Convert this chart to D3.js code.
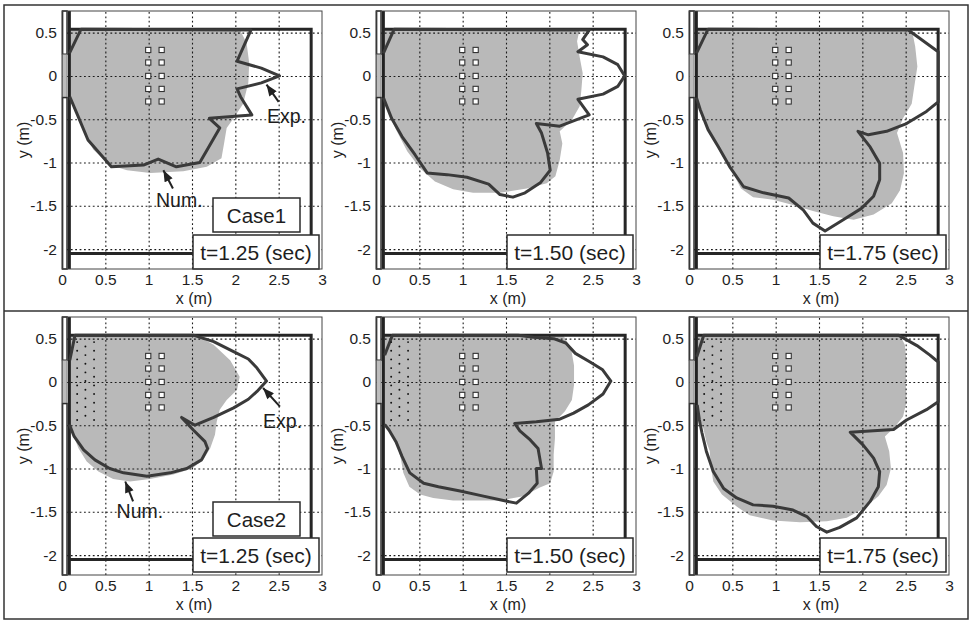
<!DOCTYPE html>
<html><head><meta charset="utf-8">
<script src="https://cdn.jsdelivr.net/npm/d3@7"></script>
<style>
body{margin:0;background:#fff}
svg{display:block}
text{font-family:"Liberation Sans",Arial,Helvetica,sans-serif;fill:#1e1e1e}
</style>
</head><body>
<svg id="c" width="973" height="622"></svg>
<script>
// ---------- data ----------
const xTicks = [0, 0.5, 1, 1.5, 2, 2.5, 3];
const xTickLabels = ["0", "0.5", "1", "1.5", "2", "2.5", "3"];
const yTicks = [0.5, 0, -0.5, -1, -1.5, -2];
const yTickLabels = ["0.5", "0", "-0.5", "-1", "-1.5", "-2"];
const timeLabels = ["t=1.25 (sec)", "t=1.50 (sec)", "t=1.75 (sec)"];
const caseLabels = ["Case1", "Case2"];
const obstacleX = [0.995, 1.15];
const obstacleY = [0.30, 0.155, 0, -0.15, -0.295];
const dotXOuter = [0.175, 0.37];
const dotXMiddle = [0.27];
const dotYOuter = [0.46, 0.36, 0.26, 0.16, 0.06, -0.04, -0.14, -0.24, -0.34, -0.44];
const dotYMiddle = [0.41, 0.31, 0.21, 0.11, 0.01, -0.09, -0.19, -0.29, -0.39];

// experimental front (dark line), Case1
const expC1T125 = [[0.085,0.26],[0.22,0.54],[2.18,0.53],[2.02,0.17],[2.3,0.09],[2.51,0.0],[2.3,-0.08],[2.02,-0.15],[2.06,-0.24],[2.19,-0.45],[1.70,-0.49],[1.82,-0.60],[1.59,-1.0],[1.32,-1.05],[1.11,-0.96],[0.94,-1.03],[0.57,-1.05],[0.30,-0.74],[0.17,-0.43],[0.09,-0.24]];
const expC1T150 = [[0.085,0.26],[0.21,0.54],[2.46,0.53],[2.385,0.42],[2.44,0.36],[2.33,0.28],[2.62,0.22],[2.79,0.13],[2.87,0.0],[2.79,-0.12],[2.62,-0.21],[2.33,-0.27],[2.46,-0.45],[2.12,-0.58],[1.85,-0.55],[1.91,-0.66],[1.98,-0.89],[2.01,-1.09],[1.90,-1.23],[1.72,-1.35],[1.58,-1.40],[1.43,-1.37],[1.30,-1.25],[1.05,-1.17],[0.82,-1.14],[0.59,-1.12],[0.45,-0.91],[0.30,-0.70],[0.18,-0.49],[0.085,-0.25]];
const expC1T175 = [[0.085,0.26],[0.22,0.54],[2.53,0.53],[2.875,0.28],[2.875,-0.30],[2.74,-0.41],[2.51,-0.55],[2.28,-0.64],[2.07,-0.68],[1.95,-0.64],[2.09,-0.82],[2.20,-1.01],[2.20,-1.20],[2.13,-1.39],[1.99,-1.53],[1.78,-1.66],[1.57,-1.79],[1.43,-1.70],[1.32,-1.55],[1.15,-1.41],[0.86,-1.35],[0.63,-1.28],[0.47,-1.05],[0.34,-0.82],[0.22,-0.62],[0.13,-0.39],[0.085,-0.25]];
// experimental front, Case2
const expC2T125 = [[0.09,0.25],[0.15,0.54],[1.515,0.54],[1.75,0.465],[1.98,0.35],[2.15,0.265],[2.25,0.16],[2.36,0.01],[2.25,-0.11],[2.15,-0.2],[1.98,-0.30],[1.75,-0.41],[1.535,-0.50],[1.38,-0.41],[1.515,-0.555],[1.65,-0.69],[1.68,-0.77],[1.61,-0.90],[1.44,-1.0],[1.25,-1.05],[0.98,-1.09],[0.71,-1.05],[0.55,-1.0],[0.38,-0.90],[0.25,-0.785],[0.14,-0.63],[0.085,-0.49]];
const expC2T150 = [[0.10,0.31],[0.19,0.54],[1.64,0.54],[1.815,0.515],[2.05,0.50],[2.19,0.45],[2.30,0.33],[2.47,0.23],[2.615,0.14],[2.71,0.01],[2.62,-0.14],[2.45,-0.265],[2.28,-0.36],[2.12,-0.43],[1.85,-0.46],[1.60,-0.48],[1.66,-0.565],[1.78,-0.67],[1.87,-0.77],[1.91,-1.0],[1.85,-1.0],[1.86,-1.17],[1.76,-1.285],[1.62,-1.40],[1.47,-1.37],[1.20,-1.31],[0.97,-1.26],[0.72,-1.21],[0.55,-1.17],[0.39,-1.05],[0.30,-0.86],[0.23,-0.69],[0.15,-0.555],[0.10,-0.49]];
const expC2T175 = [[0.09,0.29],[0.17,0.54],[2.415,0.54],[2.63,0.42],[2.78,0.31],[2.875,0.23],[2.875,-0.23],[2.74,-0.32],[2.51,-0.44],[2.36,-0.55],[2.13,-0.565],[1.86,-0.58],[2.01,-0.73],[2.13,-0.88],[2.20,-1.035],[2.185,-1.21],[2.09,-1.38],[1.935,-1.57],[1.74,-1.68],[1.59,-1.735],[1.47,-1.67],[1.36,-1.555],[1.20,-1.48],[0.97,-1.435],[0.74,-1.42],[0.55,-1.34],[0.40,-1.23],[0.28,-1.035],[0.20,-0.80],[0.15,-0.59],[0.12,-0.44],[0.095,-0.265]];

// numerical water region (gray), Case1
const numC1T125 = [[0.085,0.54],[2.05,0.54],[2.13,0.38],[2.16,0.15],[2.15,-0.08],[2.09,-0.32],[1.98,-0.49],[1.90,-0.60],[1.87,-0.78],[1.84,-0.95],[1.67,-1.05],[1.40,-1.10],[1.02,-1.12],[0.75,-1.09],[0.55,-1.03],[0.36,-0.85],[0.23,-0.59],[0.15,-0.35],[0.09,-0.24]];
const numC1T150 = [[0.085,0.54],[2.35,0.54],[2.32,0.40],[2.35,0.22],[2.385,0.03],[2.37,-0.16],[2.35,-0.35],[2.26,-0.51],[2.12,-0.64],[2.15,-0.78],[2.12,-0.97],[2.07,-1.16],[1.97,-1.24],[1.74,-1.30],[1.43,-1.35],[1.12,-1.35],[0.89,-1.31],[0.68,-1.22],[0.51,-1.07],[0.36,-0.87],[0.23,-0.62],[0.14,-0.41],[0.085,-0.26]];
const numC1T175 = [[0.085,0.54],[2.57,0.54],[2.61,0.34],[2.635,0.11],[2.60,-0.12],[2.57,-0.32],[2.47,-0.49],[2.40,-0.66],[2.47,-0.89],[2.48,-1.12],[2.435,-1.32],[2.34,-1.47],[2.13,-1.60],[1.90,-1.66],[1.665,-1.62],[1.43,-1.56],[1.20,-1.49],[0.97,-1.43],[0.74,-1.40],[0.60,-1.30],[0.48,-1.07],[0.34,-0.83],[0.20,-0.59],[0.12,-0.37],[0.085,-0.25]];
// numerical water region, Case2
const numC2T125 = [[0.085,0.54],[1.55,0.54],[1.75,0.43],[1.94,0.25],[2.05,0.06],[2.02,-0.09],[1.90,-0.21],[1.82,-0.32],[1.785,-0.46],[1.765,-0.61],[1.71,-0.765],[1.63,-0.90],[1.50,-1.0],[1.285,-1.07],[1.015,-1.12],[0.785,-1.15],[0.59,-1.12],[0.42,-1.035],[0.285,-0.92],[0.19,-0.765],[0.13,-0.61],[0.085,-0.49]];
const numC2T150 = [[0.085,0.54],[2.16,0.54],[2.25,0.39],[2.285,0.19],[2.285,-0.035],[2.26,-0.21],[2.18,-0.34],[2.065,-0.46],[2.065,-0.65],[2.05,-0.84],[2.05,-1.035],[2.01,-1.17],[1.89,-1.22],[1.70,-1.32],[1.43,-1.37],[1.16,-1.37],[0.89,-1.37],[0.66,-1.34],[0.51,-1.30],[0.385,-1.21],[0.315,-1.05],[0.285,-0.88],[0.245,-0.73],[0.18,-0.59],[0.115,-0.50],[0.085,-0.49]];
const numC2T175 = [[0.085,0.54],[2.435,0.54],[2.49,0.43],[2.51,0.235],[2.50,0.0],[2.51,-0.23],[2.47,-0.40],[2.38,-0.515],[2.26,-0.63],[2.31,-0.80],[2.33,-1.0],[2.28,-1.19],[2.185,-1.32],[2.01,-1.465],[1.82,-1.57],[1.59,-1.61],[1.28,-1.62],[0.97,-1.60],[0.70,-1.54],[0.55,-1.44],[0.38,-1.30],[0.28,-1.15],[0.25,-0.96],[0.24,-0.80],[0.20,-0.69],[0.165,-0.535],[0.12,-0.42],[0.085,-0.27]];

const expFronts = [[expC1T125, expC1T150, expC1T175], [expC2T125, expC2T150, expC2T175]];
const numRegions = [[numC1T125, numC1T150, numC1T175], [numC2T125, numC2T150, numC2T175]];

// annotations (data units) for first column
const annotLabels = ["Exp.", "Num."];
const annotRow0 = [
  {tail:[2.50,-0.30], head:[2.36,-0.10], text:[2.365,-0.545]},
  {tail:[1.28,-1.30], head:[1.17,-1.09], text:[1.085,-1.515]}
];
const annotRow1 = [
  {tail:[2.515,-0.285], head:[2.32,-0.07], text:[2.32,-0.535]},
  {tail:[0.82,-1.38], head:[0.73,-1.15], text:[0.63,-1.575]}
];
const annots = [annotRow0, annotRow1];

// ---------- layout ----------
const colLeft = [62, 376, 689];
const rowTop = [11, 317];
const W = 260, H = 258;
const INK = "#2b2b2b";

const svg = d3.select("#c");
const defs = svg.append("defs");
defs.append("marker").attr("id","arr").attr("viewBox","0 0 10 8")
  .attr("refX",10).attr("refY",4).attr("markerUnits","userSpaceOnUse")
  .attr("markerWidth",12).attr("markerHeight",9).attr("orient","auto")
  .append("path").attr("d","M0,0L10,4L0,8z").attr("fill","#222");

// outer frame and divider
svg.append("rect").attr("x",4).attr("y",5).attr("width",964).attr("height",614)
  .attr("fill","none").attr("stroke","#333").attr("stroke-width",1.5);
svg.append("line").attr("x1",4).attr("x2",968).attr("y1",311).attr("y2",311)
  .attr("stroke","#333").attr("stroke-width",1.5);

for (let r = 0; r < 2; r++) {
  for (let c = 0; c < 3; c++) {
    const L = colLeft[c], T = rowTop[r];
    const x = d3.scaleLinear().domain([0, 3]).range([L, L + W]);
    const y = d3.scaleLinear().domain([-2.23, 0.75]).range([T + H, T]);
    const g = svg.append("g");
    const line = d3.line().x(d => x(d[0])).y(d => y(d[1]));

    // numerical region (gray)
    g.append("path").attr("d", line(numRegions[r][c]) + "Z")
      .attr("fill", "#b9b9b9").attr("stroke", "none");

    // grid
    const gx = g.append("g").attr("transform", `translate(0,${T + H})`)
      .call(d3.axisBottom(x).tickValues(xTicks.filter(v => v > 0 && v < 3)).tickSize(-H).tickFormat(""));
    const gy = g.append("g").attr("transform", `translate(${L},0)`)
      .call(d3.axisLeft(y).tickValues(yTicks).tickSize(-W).tickFormat(""));
    [gx, gy].forEach(a => {
      a.select(".domain").remove();
      a.selectAll("line").attr("stroke", "#1a1a1a").attr("stroke-width", 1.1).attr("stroke-dasharray", "1.8,2.6");
    });

    // gate side walls and opening
    const gx0 = x(0.007), gx1 = x(0.058);
    g.append("rect").attr("x", gx0).attr("y", y(0.75)).attr("width", gx1 - gx0).attr("height", y(0.25) - y(0.75))
      .attr("fill", "#fff").attr("stroke", INK).attr("stroke-width", 1.5);
    g.append("rect").attr("x", gx0).attr("y", y(0.25)).attr("width", gx1 - gx0).attr("height", y(-0.25) - y(0.25))
      .attr("fill", "#bdbdbd").attr("stroke", "#777").attr("stroke-width", 0.8);
    g.append("rect").attr("x", gx0).attr("y", y(-0.25)).attr("width", gx1 - gx0).attr("height", y(-2.23) - y(-0.25))
      .attr("fill", "#fff").attr("stroke", INK).attr("stroke-width", 1.5);
    g.append("line").attr("x1", x(0.085)).attr("x2", x(0.085)).attr("y1", y(0.75)).attr("y2", y(-2.23))
      .attr("stroke", "#222").attr("stroke-width", 3);
    // tank walls
    g.append("path")
      .attr("d", `M${x(0.085)},${y(0.54)}H${x(2.875)}V${y(-2.05)}H${x(0.085)}`)
      .attr("fill", "none").attr("stroke", "#262626").attr("stroke-width", 3);

    // experimental front
    g.append("path").attr("d", line(expFronts[r][c]))
      .attr("fill", "none").attr("stroke", "#3a3a3a").attr("stroke-width", 3)
      .attr("stroke-linejoin", "round");

    // obstacles
    const obs = [];
    obstacleX.forEach(ox => obstacleY.forEach(oy => obs.push([ox, oy])));
    g.selectAll(".obs").data(obs).join("rect").attr("class", "obs")
      .attr("x", d => x(d[0]) - 2.6).attr("y", d => y(d[1]) - 2.6)
      .attr("width", 5.2).attr("height", 5.2)
      .attr("fill", "#fff").attr("stroke", "#333").attr("stroke-width", 1.1);

    // porous dots for Case2
    if (r === 1) {
      const dots = [];
      dotXOuter.forEach(dx => dotYOuter.forEach(dy => dots.push([dx, dy])));
      dotXMiddle.forEach(dx => dotYMiddle.forEach(dy => dots.push([dx, dy])));
      g.selectAll(".dot").data(dots).join("circle").attr("class", "dot")
        .attr("cx", d => x(d[0])).attr("cy", d => y(d[1])).attr("r", 0.95).attr("fill", "#111");
    }

    // case label box
    if (c === 0) {
      const cy0 = T + (r === 0 ? 187 : 185);
      g.append("rect").attr("x", L + 151).attr("y", cy0).attr("width", 87).attr("height", 34)
        .attr("fill", "#fff").attr("stroke", INK).attr("stroke-width", 1.5);
      g.append("text").attr("x", L + 194.5).attr("y", cy0 + 24.5).attr("text-anchor", "middle")
        .attr("font-size", 20.5).text(caseLabels[r]);
    }
    // time label box
    const ty0 = T + (r === 0 ? 224 : 221);
    g.append("rect").attr("x", L + 131).attr("y", ty0).attr("width", 126).attr("height", 34)
      .attr("fill", "#fff").attr("stroke", INK).attr("stroke-width", 1.5);
    g.append("text").attr("x", L + 194).attr("y", ty0 + 24.5).attr("text-anchor", "middle")
      .attr("font-size", 21).text(timeLabels[c]);

    // annotations
    if (c === 0) {
      annots[r].forEach((a, i) => {
        g.append("line").attr("x1", x(a.tail[0])).attr("y1", y(a.tail[1]))
          .attr("x2", x(a.head[0])).attr("y2", y(a.head[1]))
          .attr("stroke", "#222").attr("stroke-width", 2).attr("marker-end", "url(#arr)");
        g.append("text").attr("x", x(a.text[0])).attr("y", y(a.text[1]))
          .attr("font-size", 19.5).text(annotLabels[i]);
      });
    }

    // axes frame
    g.append("rect").attr("x", L).attr("y", T).attr("width", W).attr("height", H)
      .attr("fill", "none").attr("stroke", "#444").attr("stroke-width", 1);

    // tick labels
    const ax = g.append("g").attr("transform", `translate(0,${T + H})`)
      .call(d3.axisBottom(x).tickValues(xTicks).tickSize(0).tickPadding(5)
        .tickFormat((d, i) => xTickLabels[i]));
    const ay = g.append("g").attr("transform", `translate(${L},0)`)
      .call(d3.axisLeft(y).tickValues(yTicks).tickSize(0).tickPadding(5)
        .tickFormat((d, i) => yTickLabels[i]));
    [ax, ay].forEach(a => {
      a.select(".domain").remove();
      a.selectAll("text").attr("font-size", 15.5).attr("fill", "#1e1e1e")
        .attr("font-family", '"Liberation Sans",Arial,Helvetica,sans-serif');
    });

    // axis titles
    g.append("text").attr("x", L + 132).attr("y", T + H + 35).attr("text-anchor", "middle")
      .attr("font-size", 16).text("x (m)");
    g.append("text").attr("transform", `translate(${L - 39},${T + H / 2}) rotate(-90)`)
      .attr("text-anchor", "middle").attr("dominant-baseline", "central")
      .attr("font-size", 16).text("y (m)");
  }
}
</script>
</body></html>
